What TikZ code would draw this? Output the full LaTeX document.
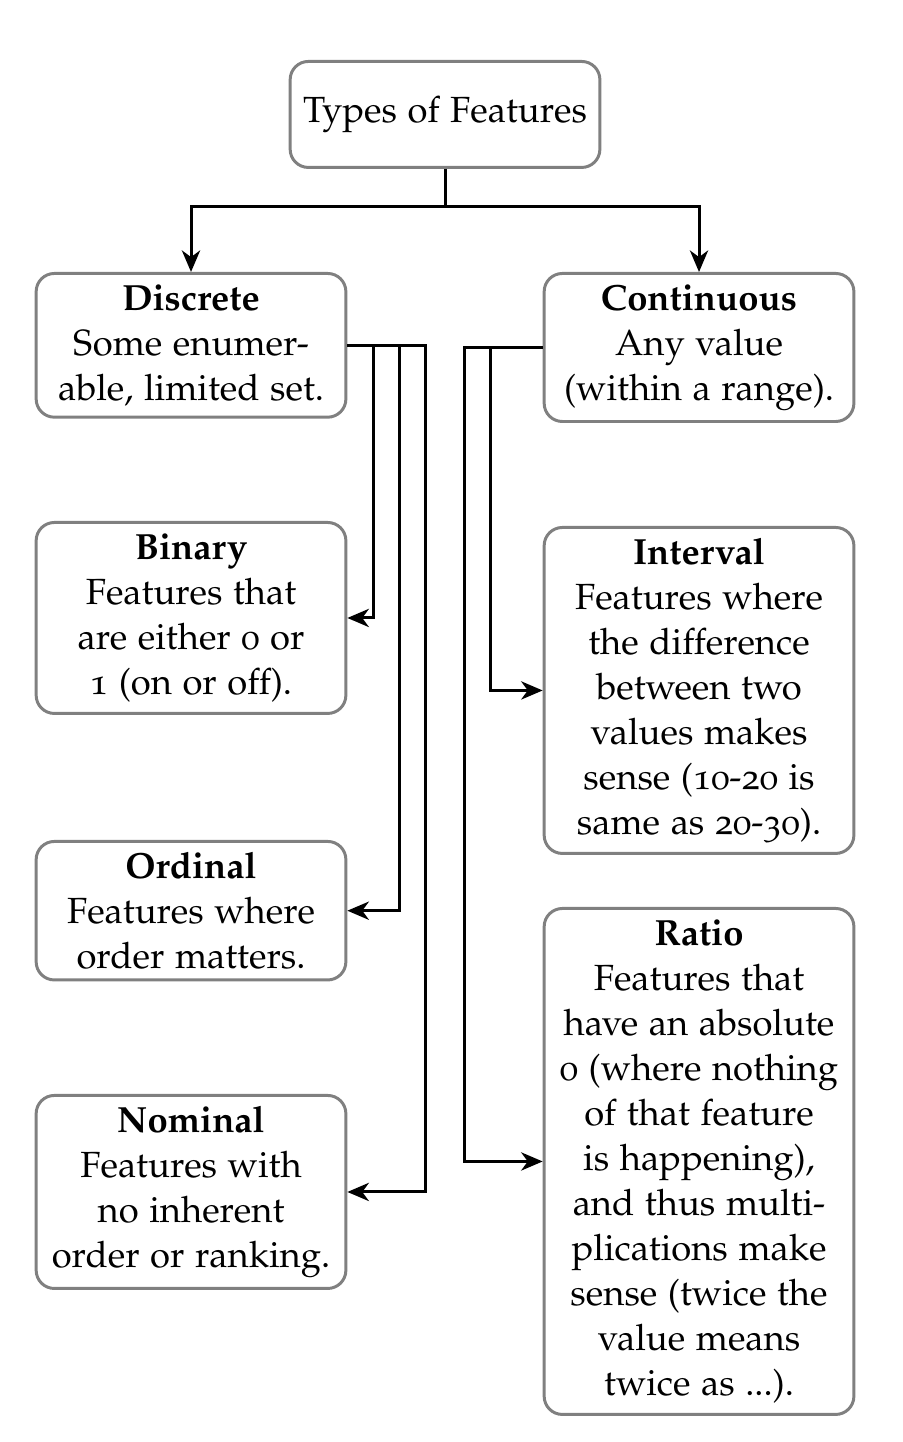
\documentclass[tikz,border=0pt]{standalone}
\usepackage[T1]{fontenc}
\usepackage[osf,sc]{mathpazo}
\usepackage{tikz}
\usetikzlibrary{positioning}
\usetikzlibrary{arrows.meta}
\tikzset{feat/.style={draw=black!50,line width=0.9pt,rounded corners=5.5pt,fill=white,align=center,minimum width=3.29cm,anchor=north,font=\fontsize{11}{13.6}\selectfont}}
\tikzset{link/.style={draw=black,line width=0.9pt,-{Stealth[length=6.5pt,width=5.5pt,inset=2pt]}}}

\begin{document}
\begin{tikzpicture}
      \useasboundingbox (0,0) rectangle (9.581,-15.317);
      % \draw[help lines] (0,0) grid (9.5,-15.3);
      \node [feat, minimum height=1.126cm] (types) at (4.727,-0.637) {Types of Features};
      \node [feat] (discrete) at (2.029,-2.889) {\textbf{Discrete}\\Some enumer-\\able, limited set.};
      \node [feat] (continuous) at (7.425,-2.889) {\textbf{Continuous}\\Any value\\(within a range).};
      \node [feat] (binary) at (2.029,-5.534) {\textbf{Binary}\\Features that\\are either 0 or\\1 (on or off).};
      \node [feat] (ordinal) at (2.029,-8.922) {\textbf{Ordinal}\\Features where\\order matters.};
      \node [feat] (nominal) at (2.029,-11.620) {\textbf{Nominal}\\Features with\\no inherent\\order or ranking.};
      \node [feat] (interval) at (7.425,-5.587) {\textbf{Interval}\\Features where\\the difference\\between two\\values makes\\sense (10-20 is\\same as 20-30).};
      \node [feat] (ratio) at (7.425,-9.634) {\textbf{Ratio}\\Features that\\have an absolute\\0 (where nothing\\of that feature\\is happening),\\and thus multi-\\plications make\\sense (twice the\\value means\\twice as ...).};

      \path [link] (types.south) -- ++(0,-0.404) -| (discrete.north);
      \path [link] (types.south) -- ++(0,-0.404) -| (continuous.north);
      \path [link] (discrete.east) -- ++(0.276,0) |- (binary.east);
      \path [link] (discrete.east) -- ++(0.552,0) |- (ordinal.east);
      \path [link] (discrete.east) -- ++(0.829,0) |- (nominal.east);
      \path [link] (continuous.west) -- ++(-0.552,0) |- (interval.west);
      \path [link] (continuous.west) -- ++(-0.829,0) |- (ratio.west);
\end{tikzpicture}
\end{document}
